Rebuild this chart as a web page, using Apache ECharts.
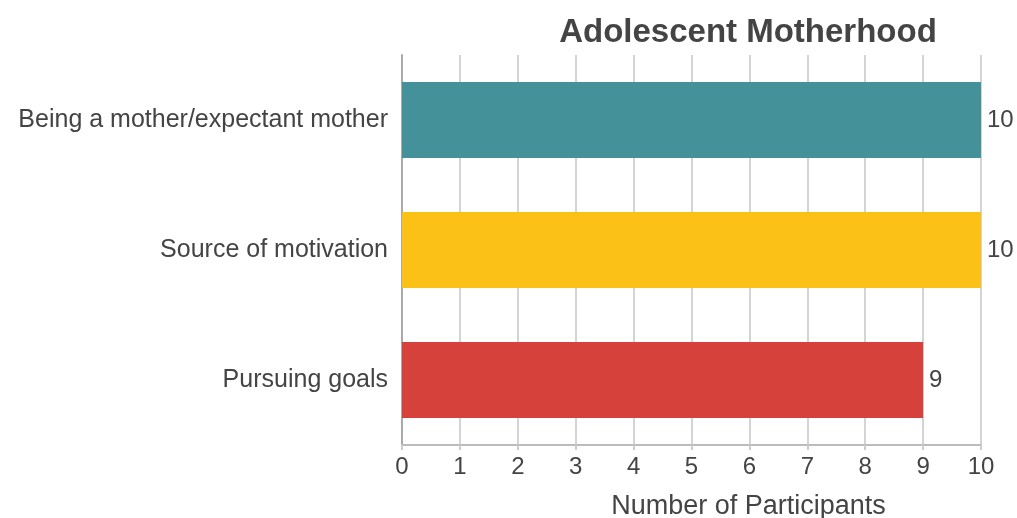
<!DOCTYPE html>
<html>
<head>
<meta charset="utf-8">
<script src="https://cdn.jsdelivr.net/npm/echarts@6/dist/echarts.min.js"></script>
<style>
  html, body { margin: 0; padding: 0; background: #fff; }
  #chart { width: 1017px; height: 518px; }
</style>
</head>
<body>
<div id="chart"></div>
<script>
// Themes reported by participants
const categories = ['Pursuing goals', 'Source of motivation', 'Being a mother/expectant mother'];
const participants = [9, 10, 10];
const barColors = ['#D6423B', '#FBC117', '#45919A'];
const xTicks = [0, 1, 2, 3, 4, 5, 6, 7, 8, 9, 10];

const FONT = '"Liberation Sans", Arial, Helvetica, sans-serif';

const chart = echarts.init(document.getElementById('chart'), null, { renderer: 'canvas' });

chart.setOption({
  animation: false,
  textStyle: { fontFamily: FONT },
  title: {
    text: 'Adolescent Motherhood',
    left: 743,
    top: 11,
    textAlign: 'center',
    textStyle: { fontFamily: FONT, fontSize: 33, fontWeight: 'bold', color: '#444' }
  },
  grid: {
    left: 402, right: 36, top: 55, bottom: 73,
    containLabel: false,
    outerBoundsMode: 'none'
  },
  xAxis: {
    type: 'value',
    min: xTicks[0],
    max: xTicks[xTicks.length - 1],
    interval: 1,
    name: 'Number of Participants',
    nameLocation: 'middle',
    nameGap: 48,
    // axis title sits under the title, a little right of the plot centre
    nameTextStyle: { fontFamily: FONT, fontSize: 27, color: '#444', padding: [0, 0, 0, 114] },
    axisLine: { show: true, lineStyle: { color: '#bbb', width: 2 } },
    axisTick: { show: true, length: 5, lineStyle: { color: '#ccc', width: 2 } },
    axisLabel: { fontFamily: FONT, fontSize: 24, color: '#444', margin: 10 },
    splitLine: { show: true, lineStyle: { color: '#d4d4d4', width: 2 } }
  },
  yAxis: {
    type: 'category',
    data: categories,
    axisLine: { show: true, lineStyle: { color: '#aaa', width: 2 } },
    axisTick: { show: false },
    axisLabel: { fontFamily: FONT, fontSize: 25, color: '#444', margin: 14, padding: [6, 0, 0, 0] }
  },
  series: [{
    type: 'bar',
    data: participants.map((v, i) => ({ value: v, itemStyle: { color: barColors[i] } })),
    barWidth: 76,
    label: {
      show: true,
      position: 'right',
      distance: 6,
      padding: [6, 0, 0, 0],
      fontFamily: FONT,
      fontSize: 24,
      color: '#444'
    }
  }]
});
</script>
</body>
</html>
